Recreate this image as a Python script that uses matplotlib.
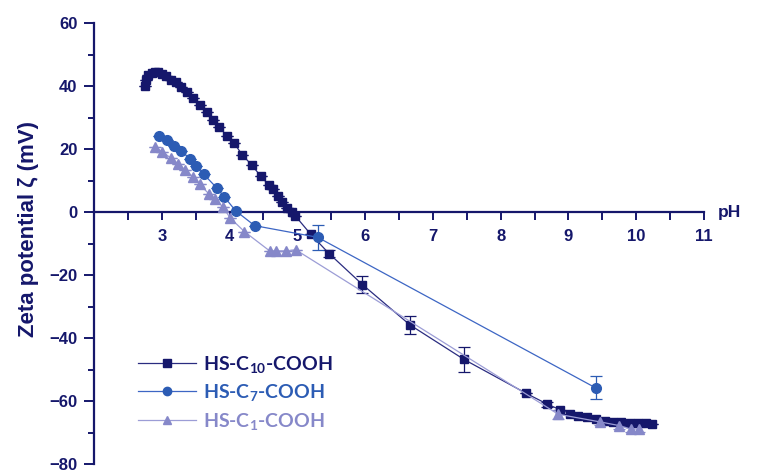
import matplotlib
matplotlib.use("Agg")
import matplotlib.pyplot as plt
from matplotlib.ticker import FixedLocator

# ---- data: zeta potential vs pH for three thiol acids ----
ph_c10 = [2.75, 2.77, 2.80, 2.85, 2.90, 2.95, 3.00, 3.06, 3.14, 3.21, 3.28, 3.37,
          3.46, 3.56, 3.66, 3.76, 3.85, 3.96, 4.07, 4.19, 4.33, 4.46, 4.58, 4.64,
          4.71, 4.78, 4.85, 4.92, 4.97, 5.20, 5.47, 5.96, 6.66, 7.46, 8.38, 8.69,
          8.88, 9.03, 9.14, 9.28, 9.41, 9.54, 9.66, 9.78, 9.91, 10.03, 10.14, 10.24]
zeta_c10 = [40.0, 42.1, 43.5, 44.2, 44.5, 44.4, 44.0, 43.3, 42.1, 41.2, 39.8, 38.2,
            36.1, 34.0, 31.9, 29.4, 27.1, 24.1, 21.8, 18.1, 14.9, 11.4, 8.6, 7.2,
            5.1, 3.3, 1.4, -0.1, -1.2, -7.1, -13.2, -23.0, -35.8, -46.8, -57.6, -61.0,
            -62.8, -64.0, -64.6, -65.2, -65.8, -66.2, -66.5, -66.7, -66.9, -67.0, -67.0, -67.2]
err_c10 = [0] * 29 + [0, 1.2, 2.8, 2.9, 4.1, 0, 0.8,
                      0, 0, 0, 0, 0, 0, 0, 0, 0, 0, 0, 0]

ph_c7 = [2.96, 3.07, 3.18, 3.29, 3.41, 3.50, 3.62, 3.81, 3.92, 4.09, 4.37, 5.30, 9.40]
zeta_c7 = [24.1, 22.9, 21.0, 19.4, 17.0, 14.7, 12.0, 7.7, 4.9, 0.4, -4.3, -8.0, -55.8]
err_c7 = [0, 0, 0, 0, 0, 0, 0, 0, 0, 0, 0, 4.0, 3.6]

ph_c1 = [2.90, 3.01, 3.13, 3.24, 3.34, 3.46, 3.56, 3.69, 3.78, 3.90, 4.01, 4.22,
         4.59, 4.69, 4.83, 4.98, 8.85, 9.46, 9.75, 9.92, 10.04]
zeta_c1 = [20.6, 19.2, 17.2, 15.4, 13.5, 11.2, 8.8, 5.9, 4.1, 1.7, -1.9, -6.2,
           -12.3, -12.3, -12.3, -12.0, -64.2, -66.6, -67.8, -68.9, -68.9]
err_c1 = [0] * 16 + [1.5, 1.0, 1.0, 0.8, 0.8]

labels = ["HS-C$_{10}$-COOH", "HS-C$_{7}$-COOH", "HS-C$_{1}$-COOH"]
x_ticks = [3, 4, 5, 6, 7, 8, 9, 10, 11]
x_minor = [2.5, 3.5, 4.5, 5.5, 6.5, 7.5, 8.5, 9.5, 10.5]
y_ticks = [-80, -60, -40, -20, 0, 20, 40, 60]
y_minor = [-70, -50, -30, -10, 10, 30, 50]

navy = "#15176b"
c10_col = "#15176b"
c7_col = "#2c5cb4"
c1_col = "#8688c9"

plt.rcParams["mathtext.fontset"] = "custom"
plt.rcParams["mathtext.rm"] = "Lato:bold"
plt.rcParams["mathtext.it"] = "Lato:bold"
plt.rcParams["mathtext.bf"] = "Lato:bold"
plt.rcParams["mathtext.default"] = "rm"

fig = plt.figure(figsize=(7.6, 4.73), dpi=100)
ax = fig.add_axes([0.1237, 0.019, 0.8026, 0.932])

series = [
    (ph_c10, zeta_c10, err_c10, c10_col, "s", 6.0, "#2a2c80"),
    (ph_c7, zeta_c7, err_c7, c7_col, "o", 7.0, "#3d66c4"),
    (ph_c1, zeta_c1, err_c1, c1_col, "^", 7.5, "#9c9dd6"),
]
handles = []
for (x, y, e, col, mk, ms, lcol), lab in zip(series, labels):
    ax.errorbar(x, y, yerr=e, fmt="none", ecolor=col, elinewidth=0.9,
                capsize=4, capthick=0.9, zorder=2)
    h, = ax.plot(x, y, color=lcol, lw=0.9, marker=mk, ms=ms, mfc=col, mec=col,
                 label=lab, zorder=3)
    handles.append(h)

ax.set_xlim(2, 11)
ax.set_ylim(-80, 60)

for s in ["top", "right"]:
    ax.spines[s].set_visible(False)
ax.spines["bottom"].set_position(("data", 0))
ax.spines["left"].set_position(("data", 2))
for s in ["bottom", "left"]:
    ax.spines[s].set_color(navy)
    ax.spines[s].set_linewidth(1.6)

ax.xaxis.set_major_locator(FixedLocator(x_ticks))
ax.xaxis.set_minor_locator(FixedLocator(x_minor))
ax.yaxis.set_major_locator(FixedLocator(y_ticks))
ax.yaxis.set_minor_locator(FixedLocator(y_minor))

ax.tick_params(axis="x", which="both", direction="out", length=6, width=1.4,
               color=navy, pad=6, labelcolor=navy)
ax.tick_params(axis="y", which="major", direction="out", length=7, width=1.4,
               color=navy, pad=5, labelcolor=navy)
ax.tick_params(axis="y", which="minor", direction="out", length=4, width=1.4,
               color=navy)
for lab in ax.get_xticklabels() + ax.get_yticklabels():
    lab.set_family("Liberation Sans")
    lab.set_weight("bold")
    lab.set_size(12)

ax.text(11.2, 0, "pH", ha="left", va="center", color=navy,
        family="Liberation Sans", weight="bold", fontsize=12.5)
fig.text(0.037, 0.515, "Zeta potential ζ (mV)", rotation=90, ha="center",
         va="center", color=navy, family="Liberation Sans", weight="bold",
         fontsize=16)

leg = ax.legend(handles=handles, loc="upper left",
                bbox_to_anchor=(120 / 760, 1 - 336 / 473), bbox_transform=fig.transFigure,
                frameon=False, prop=dict(family="Lato", weight="bold", size=14),
                handlelength=3.0, handletextpad=0.35, labelspacing=0.4)
for txt, col in zip(leg.get_texts(), [c10_col, c7_col, c1_col]):
    txt.set_color(col)
for lh in leg.legend_handles:
    lh.set_markersize(6)

fig.savefig("out.png", dpi=100)
